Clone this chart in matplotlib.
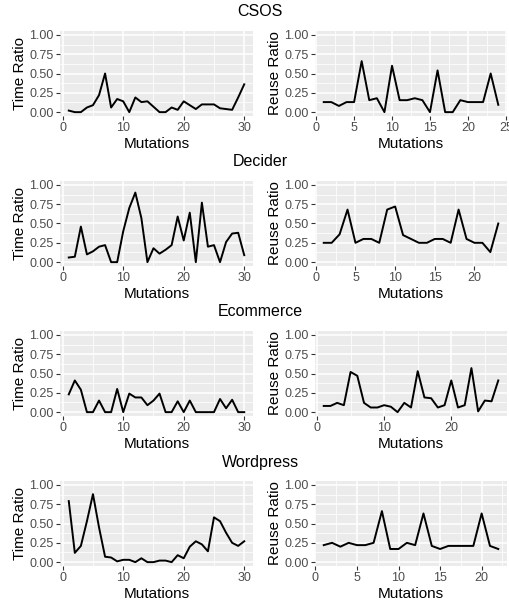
import matplotlib.pyplot as plt
from matplotlib.ticker import MultipleLocator, FormatStrFormatter

# data
projects = ['CSOS', 'Decider', 'Ecommerce', 'Wordpress']

csos_time = [0.02, 0.0, 0.0, 0.06, 0.09, 0.22, 0.50, 0.06, 0.17, 0.14,
             0.0, 0.19, 0.13, 0.14, 0.07, 0.0, 0.0, 0.06, 0.03, 0.14,
             0.09, 0.04, 0.10, 0.10, 0.10, 0.05, 0.04, 0.03, 0.19, 0.36]
csos_reuse = [0.13, 0.13, 0.08, 0.13, 0.13, 0.66, 0.155, 0.18, 0.0, 0.60,
              0.155, 0.155, 0.18, 0.155, 0.0, 0.54, 0.0, 0.0, 0.155, 0.13,
              0.13, 0.13, 0.50, 0.095]

decider_time = [0.06, 0.07, 0.46, 0.10, 0.14, 0.20, 0.22, 0.0, 0.0, 0.40,
                0.70, 0.90, 0.57, 0.0, 0.18, 0.11, 0.16, 0.22, 0.59, 0.28,
                0.64, 0.0, 0.77, 0.20, 0.22, 0.0, 0.26, 0.37, 0.38, 0.09]
decider_reuse = [0.25, 0.25, 0.36, 0.68, 0.25, 0.30, 0.30, 0.25, 0.68, 0.72,
                 0.35, 0.30, 0.25, 0.25, 0.30, 0.30, 0.25, 0.68, 0.30, 0.25,
                 0.25, 0.13, 0.50]

ecommerce_time = [0.23, 0.41, 0.29, 0.0, 0.0, 0.15, 0.0, 0.0, 0.30, 0.0,
                  0.24, 0.19, 0.19, 0.09, 0.15, 0.24, 0.0, 0.0, 0.14, 0.0,
                  0.15, 0.0, 0.0, 0.0, 0.0, 0.17, 0.05, 0.16, 0.0, 0.0]
ecommerce_reuse = [0.08, 0.08, 0.12, 0.09, 0.52, 0.47, 0.12, 0.06, 0.06, 0.09,
                   0.07, 0.0, 0.12, 0.06, 0.53, 0.19, 0.18, 0.06, 0.09, 0.41,
                   0.06, 0.09, 0.57, 0.01, 0.15, 0.14, 0.41]

wordpress_time = [0.79, 0.12, 0.21, 0.53, 0.88, 0.45, 0.07, 0.06, 0.01, 0.03,
                  0.03, 0.0, 0.05, 0.0, 0.0, 0.02, 0.02, 0.0, 0.09, 0.05,
                  0.20, 0.27, 0.23, 0.14, 0.58, 0.53, 0.38, 0.25, 0.21, 0.27]
wordpress_reuse = [0.22, 0.25, 0.20, 0.25, 0.22, 0.22, 0.25, 0.66, 0.17, 0.17,
                   0.25, 0.22, 0.63, 0.21, 0.17, 0.21, 0.21, 0.21, 0.21, 0.63,
                   0.21, 0.17]

rows = [(csos_time, csos_reuse, 10, 5),
        (decider_time, decider_reuse, 10, 5),
        (ecommerce_time, ecommerce_reuse, 10, 10),
        (wordpress_time, wordpress_reuse, 10, 5)]

W, H = 509, 604
fig = plt.figure(figsize=(W / 100, H / 100), dpi=100)
plt.rcParams['font.family'] = ['Liberation Sans', 'DejaVu Sans']


def style(ax, vals, xstep, ylabel):
    n = len(vals)
    xs = list(range(1, n + 1))
    ax.set_facecolor('#EBEBEB')
    ax.plot(xs, vals, color='black', lw=1.4, zorder=3)
    pad = (n - 1) * 0.05
    ax.set_xlim(1 - pad, n + pad)
    ax.set_ylim(-0.05, 1.05)
    ax.xaxis.set_major_locator(MultipleLocator(xstep))
    ax.xaxis.set_minor_locator(MultipleLocator(xstep / 2))
    ax.yaxis.set_major_locator(MultipleLocator(0.25))
    ax.yaxis.set_minor_locator(MultipleLocator(0.125))
    ax.yaxis.set_major_formatter(FormatStrFormatter('%.2f'))
    ax.grid(which='major', color='white', lw=1.1, zorder=1)
    ax.grid(which='minor', color='white', lw=0.55, zorder=1)
    ax.set_axisbelow(True)
    for s in ax.spines.values():
        s.set_visible(False)
    ax.tick_params(which='major', length=3, width=0.8, color='#333333',
                   labelcolor='#4D4D4D', labelsize=9, pad=1.5)
    ax.tick_params(which='minor', length=0)
    ax.set_xlabel('Mutations', fontsize=11, labelpad=2)
    ax.set_ylabel(ylabel, fontsize=11, labelpad=2)


for r, (tv, rv, lstep, rstep) in enumerate(rows):
    top = 31 + 150 * r
    bot = 116 + 150 * r
    axl = fig.add_axes([60 / W, 1 - bot / H, 193 / W, (bot - top) / H])
    axr = fig.add_axes([315 / W, 1 - bot / H, 192 / W, (bot - top) / H])
    style(axl, tv, lstep, 'Time Ratio')
    style(axr, rv, rstep, 'Reuse Ratio')
    fig.text(260 / W, 1 - (12 + 150 * r) / H, projects[r], ha='center',
             va='center', fontsize=11.5)

fig.savefig('out.png', dpi=100)
